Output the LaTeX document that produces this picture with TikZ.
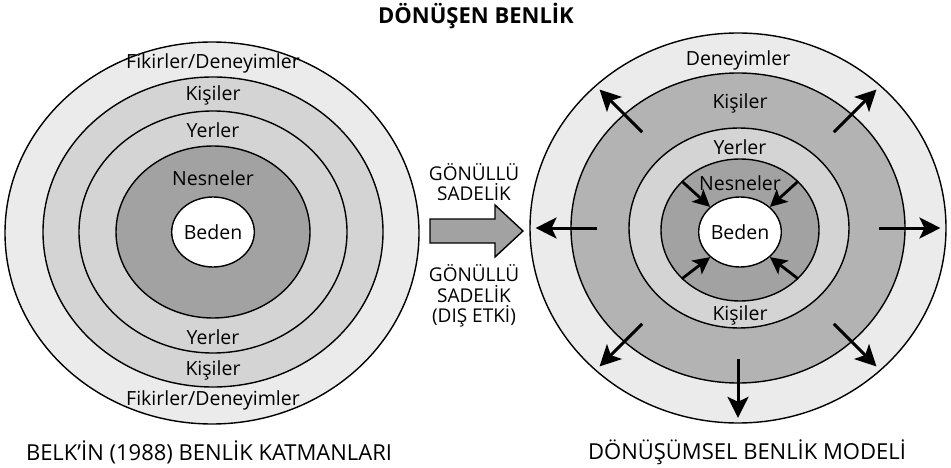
\documentclass[tikz,border=0pt]{standalone}
\usepackage{fontspec}
\setmainfont{Open Sans}
\usetikzlibrary{arrows.meta,calc,shapes.geometric}

\definecolor{bandlight}{HTML}{EBEBEB}
\definecolor{bandmid}{HTML}{D4D4D4}
\definecolor{banddeep}{HTML}{B3B3B3}
\definecolor{banddark}{HTML}{A2A2A2}

\tikzset{
  ring/.style={draw, ellipse, line width=1.4pt, inner sep=0pt},
  lbl/.style={font=\fontsize{19.5}{21}\selectfont},
  midlbl/.style={font=\fontsize{19}{20.5}\selectfont, align=center},
  caption/.style={font=\fontsize{22}{24}\selectfont},
  outarrow/.style={-{Stealth[length=21pt,width=21pt,inset=5pt]}, line width=3pt},
  inarrow/.style={-{Stealth[length=17pt,width=17pt,inset=4pt]}, line width=2.8pt}
}

\begin{document}
\begin{tikzpicture}[x=1pt,y=-1pt]
    \useasboundingbox (0,0) rectangle (951,468);

    % Title
    \node[font=\bfseries\fontsize{22}{24}\selectfont] (title) at (476,16) {DÖNÜŞEN BENLİK};

    % Left model
    \node[ring, fill=bandlight, minimum width=414pt, minimum height=382pt] (L1) at (212,233) {};
    \node[ring, fill=bandmid, minimum width=340pt, minimum height=310pt] (L2) at (213,232) {};
    \node[ring, fill=bandmid, minimum width=268pt, minimum height=242pt] (L3) at (213,232) {};
    \node[ring, fill=banddark, minimum width=194pt, minimum height=172pt] (L4) at (213,232) {};
    \node[ring, fill=white, minimum width=80pt, minimum height=70pt, lbl] (L5) at (213,232) {Beden};

    \node[lbl] (lfikir1) at (213,63) {Fikirler/Deneyimler};
    \node[lbl] (lkisi1) at (213,95) {Kişiler};
    \node[lbl] (lyer1) at (213,130) {Yerler};
    \node[lbl] (lnesne) at (213,178) {Nesneler};
    \node[lbl] (lyer2) at (213,337) {Yerler};
    \node[lbl] (lkisi2) at (213,370) {Kişiler};
    \node[lbl] (lfikir2) at (213,400) {Fikirler/Deneyimler};

    \node[caption] (lcap) at (209,452) {BELK’İN (1988) BENLİK KATMANLARI};

    % Middle arrow
    \node[midlbl] (simp1) at (474,182) {GÖNÜLLÜ\\SADELİK};
    \draw[fill=banddark, line width=1.4pt] (430,219) -- (495,219) -- (495,205) -- (523,231)
        -- (495,257) -- (495,243) -- (430,243) -- cycle;
    \node[midlbl] (simp2) at (474,296) {GÖNÜLLÜ\\SADELİK\\(DIŞ ETKİ)};

    % Right model
    \node[ring, fill=bandlight, minimum width=416pt, minimum height=390pt] (R1) at (738,228) {};
    \node[ring, fill=banddeep, minimum width=334pt, minimum height=310pt] (R2) at (738,228) {};
    \node[ring, fill=bandmid, minimum width=220pt, minimum height=200pt] (R3) at (739,228) {};
    \node[ring, fill=banddark, minimum width=158pt, minimum height=142pt] (R4) at (740,230) {};
    \node[ring, fill=white, minimum width=78pt, minimum height=70pt, lbl] (R5) at (740,232) {Beden};

    \node[lbl] (rdeney) at (738,60) {Deneyimler};
    \node[lbl] (rkisi1) at (740,103) {Kişiler};
    \node[lbl] (ryer) at (740,147) {Yerler};
    \node[lbl] (rnesne) at (740,183) {Nesneler};
    \node[lbl] (rkisi2) at (740,315) {Kişiler};

    % Outward arrows
    \foreach \a in {0,45,135,180,225,270,315}
        \draw[outarrow] ($(R2.center)!0.84!(R2.\a)$) -- ($(R1.center)!0.97!(R1.\a)$);

    % Inward arrows
    \foreach \a in {40,140,220,320}
        \draw[inarrow] (R4.\a) -- (R5.\a);

    \node[caption] (rcap) at (747,452) {DÖNÜŞÜMSEL BENLİK MODELİ};
\end{tikzpicture}
\end{document}
